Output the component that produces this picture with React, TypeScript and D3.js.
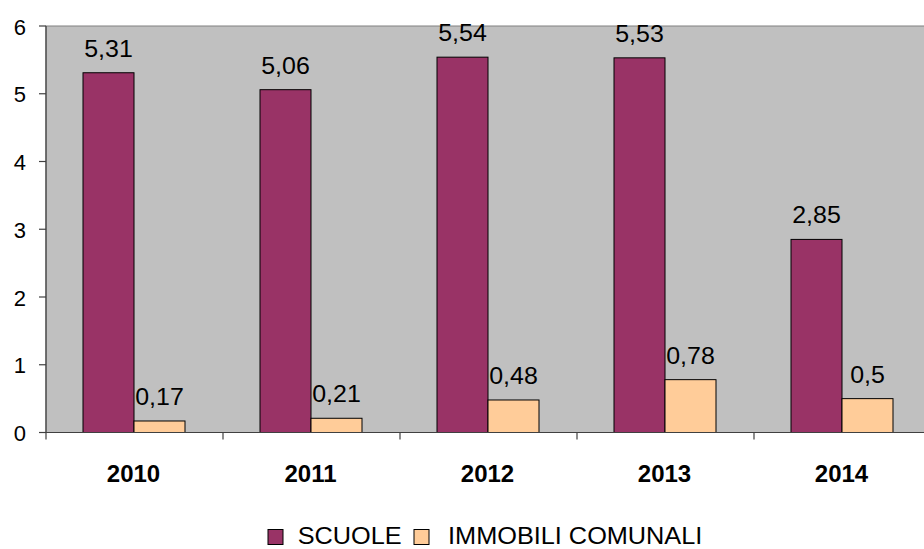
import React from "react";
import * as d3 from "d3";

const categories = ["2010", "2011", "2012", "2013", "2014"];
const scuole = [5.31, 5.06, 5.54, 5.53, 2.85];
const immobili = [0.17, 0.21, 0.48, 0.78, 0.5];
const seriesNames = ["SCUOLE", "IMMOBILI COMUNALI"];
const yTicks = [0, 1, 2, 3, 4, 5, 6];
const colors = ["#993366", "#FFCC99"];

const fmt = (v: number) => String(v).replace(".", ",");

export default function App() {
  const W = 924, H = 549;
  const left = 46, right = 931, top = 26, bottom = 432.5;
  const x = d3.scaleBand().domain(categories).range([left, right]).paddingInner(0).paddingOuter(0);
  const y = d3.scaleLinear().domain([0, 6]).range([bottom, top]);
  const bw = 51;
  const series = [scuole, immobili];
  const font = "Liberation Sans, Arial, sans-serif";
  return (
    <svg width={W} height={H} style={{ position: "absolute", left: 0, top: 0 }}>
      <rect x={0} y={0} width={W} height={H} fill="#fff" />
      <rect x={left} y={top} width={right - left} height={bottom - top} fill="#C0C0C0" stroke="#808080" strokeWidth={1} />
      {series.map((vals, si) =>
        vals.map((v, i) => {
          const cx = x(categories[i])! + x.bandwidth() / 2;
          const bx = cx - bw + si * bw - 0.5;
          return (
            <g key={`${si}-${i}`}>
              <rect x={bx} y={y(v)} width={bw} height={bottom - y(v)} fill={colors[si]} stroke="#000" strokeWidth={1} />
              <text x={bx + bw / 2} y={y(v) - 16} textAnchor="middle" fontFamily={font} fontSize={24} fill="#000" transform={`translate(${bx + bw / 2},0) scale(1.04,1) translate(${-(bx + bw / 2)},0)`}>
                {fmt(v)}
              </text>
            </g>
          );
        })
      )}
      <line x1={left} x2={left} y1={top} y2={bottom} stroke="#404040" strokeWidth={1.2} />
      <line x1={left} x2={right} y1={bottom} y2={bottom} stroke="#404040" strokeWidth={1.2} />
      {yTicks.map((t) => (
        <g key={t}>
          <line x1={39} x2={left} y1={y(t)} y2={y(t)} stroke="#404040" strokeWidth={1.2} />
          <text x={26} y={y(t) + 8.5} textAnchor="end" fontFamily={font} fontSize={22} fill="#000">
            {t}
          </text>
        </g>
      ))}
      {categories.map((c) => (
        <g key={c}>
          <line x1={x(c)!} x2={x(c)!} y1={bottom} y2={bottom + 7} stroke="#404040" strokeWidth={1.2} />
          <text x={x(c)! + x.bandwidth() / 2 - 1} y={481.5} textAnchor="middle" fontFamily={font} fontSize={24} fontWeight="bold" fill="#000">
            {c}
          </text>
        </g>
      ))}
      {seriesNames.map((n, i) => {
        const lx = i === 0 ? 268 : 414;
        return (
          <g key={n}>
            <rect x={lx} y={529.5} width={15} height={15} fill={colors[i]} stroke="#000" strokeWidth={1} />
            <text x={lx + (i === 0 ? 27 : 31)} y={544} fontFamily={font} fontSize={23} fill="#000" transform={`translate(${lx},0) scale(1.1,1) translate(${-lx},0)`}>
              {n}
            </text>
          </g>
        );
      })}
    </svg>
  );
}
